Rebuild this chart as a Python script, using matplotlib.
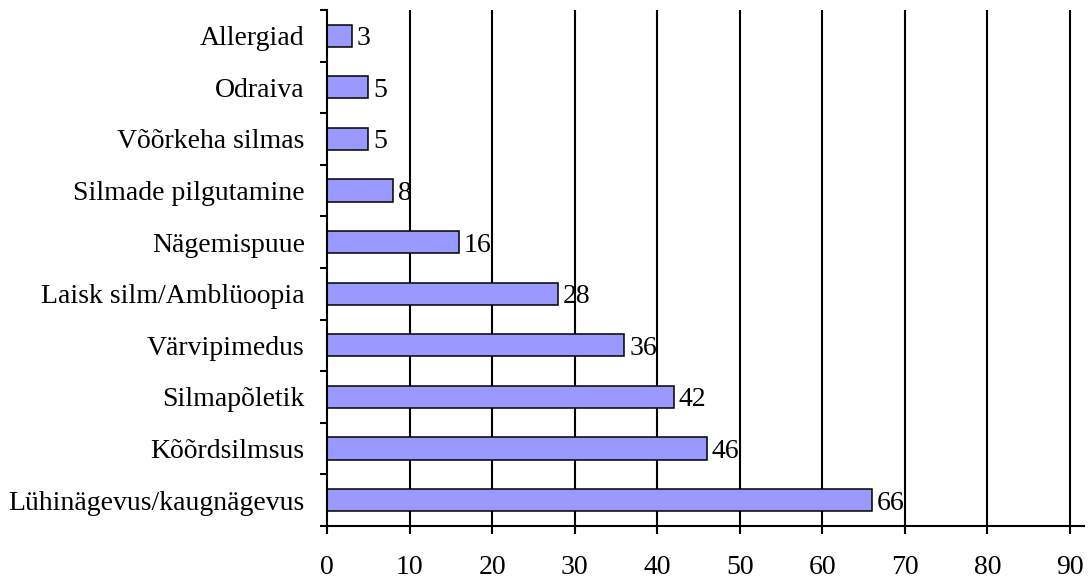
import matplotlib.pyplot as plt
import numpy as np

plt.rcParams['font.family'] = ['Liberation Serif', 'DejaVu Serif']

# andmed (ülevalt alla)
categories = ['Allergiad', 'Odraiva', 'Võõrkeha silmas', 'Silmade pilgutamine',
              'Nägemispuue', 'Laisk silm/Amblüoopia', 'Värvipimedus',
              'Silmapõletik', 'Kõõrdsilmsus', 'Lühinägevus/kaugnägevus']
values = [3, 5, 5, 8, 16, 28, 36, 42, 46, 66]
x_ticks = [0, 10, 20, 30, 40, 50, 60, 70, 80, 90]

fig = plt.figure(figsize=(10.91, 5.78), dpi=100)
ax = fig.add_axes([0.2997, 0.09, 0.6939, 0.8927])

n = len(categories)
y = np.arange(n)[::-1]

# vertikaalsed jooned
for xv in x_ticks[1:]:
    ax.axvline(xv, color='black', lw=1.5, zorder=1)

ax.barh(y, values, height=0.43, color='#9999FF', edgecolor='black',
        linewidth=1.1, zorder=2)

for yi, v in zip(y, values):
    ax.text(v + 0.6, yi, str(v), va='center_baseline', ha='left', fontsize=20, zorder=3)

ax.set_xlim(0, 91.7)
ax.set_ylim(-0.5, n - 0.5)
ax.set_xticks(x_ticks)
ax.set_yticks(y)
ax.set_yticklabels(categories)
ax.set_yticks(np.arange(n + 1) - 0.5, minor=True)

ax.tick_params(axis='x', labelsize=20, length=6, width=1.5, pad=15, direction='out')
ax.tick_params(axis='y', which='major', labelsize=20, length=0, pad=16)
ax.tick_params(axis='y', which='minor', length=5, width=1.5, direction='out')

for s in ['top', 'right']:
    ax.spines[s].set_visible(False)
for s in ['left', 'bottom']:
    ax.spines[s].set_linewidth(1.5)

fig.savefig('out.png', dpi=100)
